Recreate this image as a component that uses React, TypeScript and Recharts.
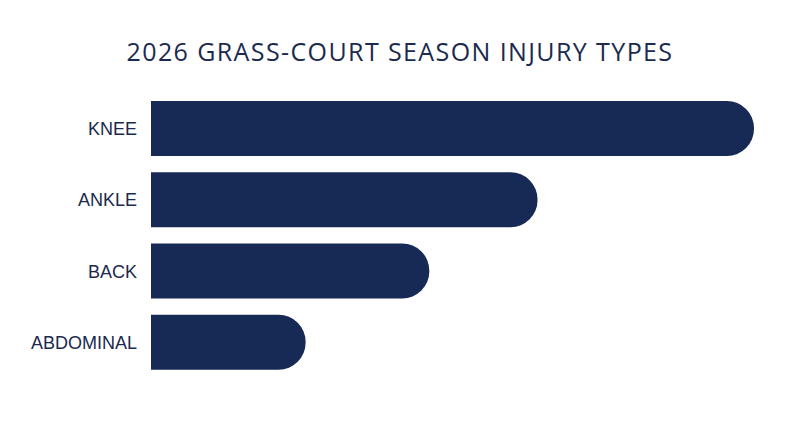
import { BarChart, Bar, XAxis, YAxis } from 'recharts';

const injuries = ['KNEE', 'ANKLE', 'BACK', 'ABDOMINAL'];
const counts = [39, 25, 18, 10];

const NAVY = '#172955';
const INK = '#1b2a4e';

export default function App() {
  const data = injuries.map((name, i) => ({ name, value: counts[i] }));

  return (
    <div style={{ position: 'absolute', left: 0, top: 0, width: 800, height: 447, background: '#fff' }}>
      <div
        style={{
          position: 'absolute',
          left: 0,
          top: 34,
          width: 800,
          textAlign: 'center',
          fontFamily: '"Open Sans", sans-serif',
          fontSize: 25,
          letterSpacing: 1.4,
          color: INK,
          lineHeight: '34px',
        }}
      >
        2026 GRASS-COURT SEASON INJURY TYPES
      </div>
      <BarChart
        width={800}
        height={447}
        data={data}
        layout="vertical"
        margin={{ top: 93, right: 46, bottom: 69, left: 0 }}
        barSize={55}
      >
        <XAxis type="number" domain={[0, 39]} hide />
        <YAxis
          type="category"
          dataKey="name"
          width={151}
          axisLine={false}
          tickLine={false}
          tickMargin={8}
          tick={{ fill: INK, fontSize: 18, fontFamily: '"Liberation Sans", Arial, sans-serif' }}
        />
        <Bar dataKey="value" fill={NAVY} radius={[0, 27, 27, 0]} isAnimationActive={false} />
      </BarChart>
    </div>
  );
}
